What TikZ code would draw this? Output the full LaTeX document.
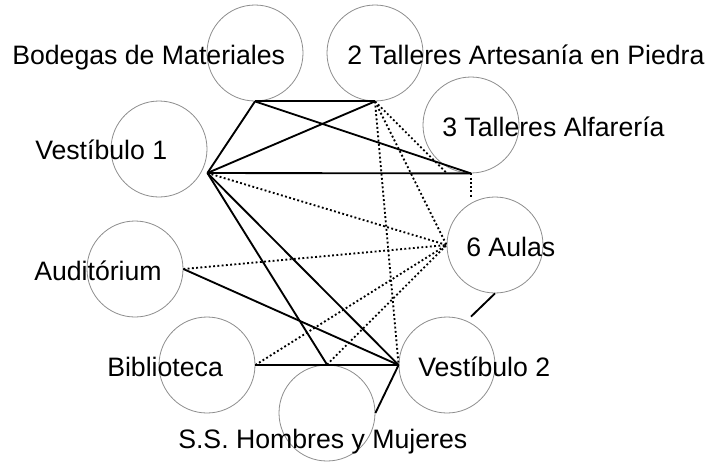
\documentclass[tikz,border=0pt]{standalone}
\usepackage{fontspec}
\setmainfont{Liberation Sans}
\usetikzlibrary{positioning,calc}

\begin{document}
\begin{tikzpicture}[x=0.75pt,y=-0.75pt,
  rm/.style={circle,draw=black!45,line width=0.6pt,minimum size=72pt,inner sep=0pt},
  lbl/.style={anchor=base west,inner sep=0pt,font=\fontsize{20}{22}\selectfont},
  ln/.style={line width=1.4pt},
  dt/.style={line width=1.4pt,dash pattern=on 1.4pt off 1.8pt}]
\useasboundingbox (0,0) rectangle (710,462);
% rooms
\foreach \n/\x/\y in {bod/255/53,pie/375/53,alf/471/125,v1/159/149,aul/495/245,
                      aud/135/269,bib/207/365,v2/447/365,ss/327/413}{
  \node[rm] (\n) at (\x,\y) {};}
% connection points off the anchors
\coordinate (v1c) at ($(v1.east)+(0,24)$);
\coordinate (alfc) at ($(alf.south)+(-24,0)$);
\coordinate (aulc) at ($(aul.north)+(-24,0)$);
\coordinate (v2c) at ($(v2.north)+(24,0)$);
% direct links
\foreach \a/\b in {bod.south/pie.south,bod.south/v1c,bod.south/alf.south,pie.south/v1c,
                   v1c/alf.south,v1c/v2.west,v1c/ss.north,aud.east/v2.west,
                   bib.east/v2.west,aul.south/v2c,v2.west/ss.east}{
  \draw[ln] (\a) -- (\b);}
% indirect links
\foreach \a/\b in {pie.south/alfc,pie.south/aul.west,pie.south/v2.west,alf.south/aulc,
                   v1c/aul.west,aud.east/aul.west,bib.east/aul.west,ss.north/aul.west}{
  \draw[dt] (\a) -- (\b);}
% names
\node[lbl] (bodL) at (12,64) {Bodegas de Materiales};
\node[lbl] (pieL) at (347,64) {2 Talleres Artesanía en Piedra};
\node[lbl] (alfL) at (442,136) {3 Talleres Alfarería};
\node[lbl] (v1L) at (35,159) {Vestíbulo 1};
\node[lbl] (aulL) at (466,256) {6 Aulas};
\node[lbl] (audL) at (34,280) {Auditórium};
\node[lbl] (bibL) at (107,376) {Biblioteca};
\node[lbl] (v2L) at (418,376) {Vestíbulo 2};
\node[lbl] (ssL) at (178,448) {S.S. Hombres y Mujeres};
\end{tikzpicture}
\end{document}
